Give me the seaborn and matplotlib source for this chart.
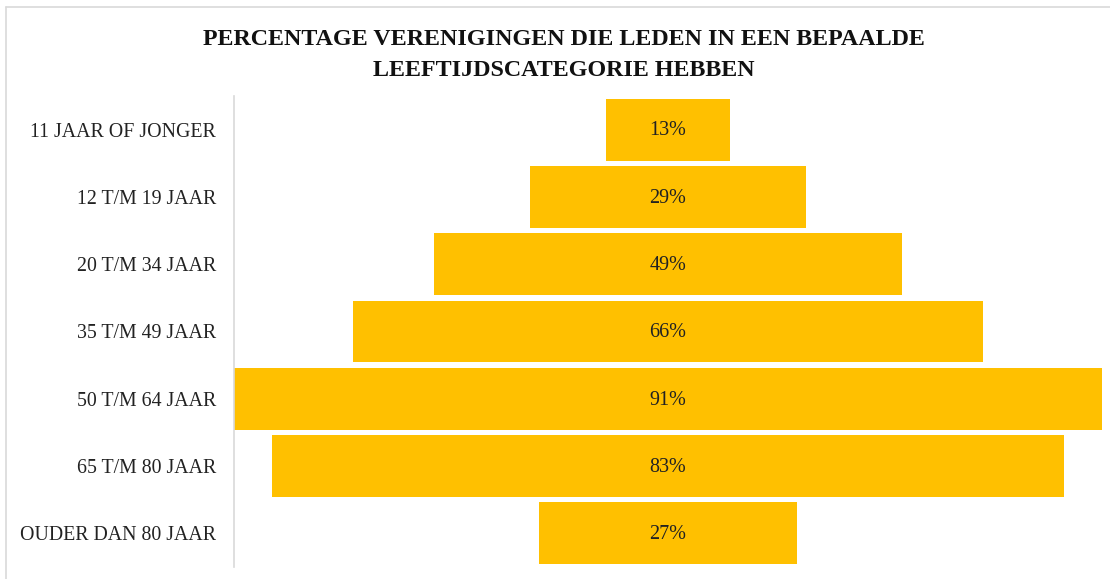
import matplotlib
matplotlib.use("Agg")
import matplotlib.pyplot as plt
from matplotlib.lines import Line2D
import seaborn as sns
import pandas as pd

# data
categories = ['11 JAAR OF JONGER', '12 T/M 19 JAAR', '20 T/M 34 JAAR', '35 T/M 49 JAAR',
              '50 T/M 64 JAAR', '65 T/M 80 JAAR', 'OUDER DAN 80 JAAR']
percentages = [13, 29, 49, 66, 91, 83, 27]

sns.set_theme(style="white")
plt.rcParams['font.family'] = ['Liberation Serif', 'DejaVu Serif']

df = pd.DataFrame({'cat': categories, 'pct': percentages})
df['right'] = df['pct'] / 2
df['left'] = -df['pct'] / 2

fig = plt.figure(figsize=(11.1, 5.79), dpi=100)
ax = fig.add_axes([234 / 1110, 1 - 567 / 579, (1102 - 234) / 1110, (567 - 96) / 579])

# centred bars: two halves drawn from zero outwards
for col in ['right', 'left']:
    sns.barplot(data=df, x=col, y='cat', color='#FFC000', saturation=1, width=0.92,
                linewidth=0, edgecolor='none', ax=ax)

ax.set_xlim(-45.5, 45.5)
ax.set_xlabel('')
ax.set_ylabel('')
ax.set_xticks([])
ax.tick_params(axis='y', length=0, pad=13, labelsize=14.3, labelcolor='#222222')
for s in ['top', 'right', 'bottom']:
    ax.spines[s].set_visible(False)
ax.spines['left'].set_color('#D9D9D9')
ax.spines['left'].set_linewidth(1.2)
ax.spines['left'].set_position(('data', -45.5))

for i, v in enumerate(percentages):
    ax.text(0, i + 0.02, f'{v}%', ha='center', va='center', fontsize=14.5, color='#222222')

fig.text(0.508, 1 - 55 / 579, 'PERCENTAGE VERENIGINGEN DIE LEDEN IN EEN BEPAALDE\nLEEFTIJDSCATEGORIE HEBBEN',
         ha='center', va='center', fontsize=17.3, fontweight='bold', linespacing=1.6, color='#111111')

# thin frame lines at top and left, as in the source image
fig.add_artist(Line2D([6 / 1110, 1], [1 - 7 / 579, 1 - 7 / 579], color='#D9D9D9', lw=1.2))
fig.add_artist(Line2D([6 / 1110, 6 / 1110], [0, 1 - 7 / 579], color='#D9D9D9', lw=1.2))

fig.savefig('out.png', dpi=100)
